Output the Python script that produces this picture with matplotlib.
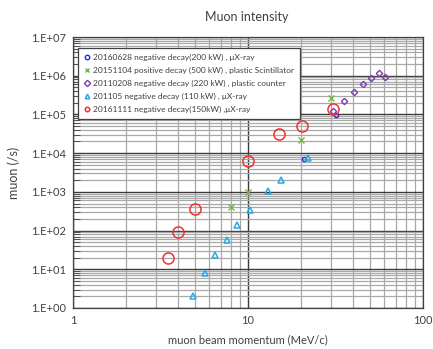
import matplotlib
matplotlib.use("Agg")
import matplotlib.pyplot as plt
from matplotlib.ticker import LogLocator, NullFormatter

plt.rcParams['font.family'] = ['Lato', 'DejaVu Sans']

# data
blue_x = [21, 32]
blue_y = [6900, 98000]
green_x = [8, 10, 20, 30]
green_y = [410, 1000, 22000, 260000]
purple_x = [30.5, 35.5, 40.5, 45.4, 50.7, 55.8, 60.7]
purple_y = [125000, 220000, 386000, 610000, 870000, 1200000, 925000]
cyan_x = [4.83, 5.7, 6.45, 7.6, 8.6, 10.2, 13, 15.4, 21.9]
cyan_y = [2.1, 8.1, 24, 56, 136, 350, 1050, 2000, 7300]
red_x = [3.5, 4.0, 5.0, 10.0, 15.0, 20.3, 30.5]
red_y = [19, 91, 370, 6400, 30500, 50000, 135000]

labels = [
    "20160628 negative decay(200 kW) , \u03bcX-ray",
    "20151104 positive decay (500 kW) , plastic Scintillator",
    "20110208 negative decay (220 kW) , plastic counter",
    "201105 negative decay (110 kW) , \u03bcX-ray",
    "20161111 negative decay(150kW) ,\u03bcX-ray",
]
yticks = [1e0, 1e1, 1e2, 1e3, 1e4, 1e5, 1e6, 1e7]
ytick_labels = ["1.E+00", "1.E+01", "1.E+02", "1.E+03", "1.E+04", "1.E+05", "1.E+06", "1.E+07"]
xticks = [1, 10, 100]
xtick_labels = ["1", "10", "100"]

txt = '#404040'
fig = plt.figure(figsize=(4.33, 3.49), dpi=100)
ax = fig.add_axes([73/433, 1-308/349, 350/433, 271/349])
ax.set_xscale('log')
ax.set_yscale('log')
ax.set_xlim(1, 100)
ax.set_ylim(1, 1e7)

ax.set_xticks(xticks)
ax.set_xticklabels(xtick_labels)
ax.set_yticks(yticks)
ax.set_yticklabels(ytick_labels)
ax.xaxis.set_minor_locator(LogLocator(base=10, subs=range(2, 10)))
ax.yaxis.set_minor_locator(LogLocator(base=10, subs=range(2, 10)))
ax.xaxis.set_minor_formatter(NullFormatter())
ax.yaxis.set_minor_formatter(NullFormatter())
ax.grid(True, which='major', color='#3a3a3a', lw=1.0)
ax.grid(True, which='minor', color='#a8a8a8', lw=0.9)
ax.set_axisbelow(True)
ax.tick_params(which='both', colors=txt, labelsize=8, length=0, pad=5)
ax.tick_params(axis='y', which='minor', direction='in', length=5, left=True)
for s in ax.spines.values():
    s.set_color('#404040')
    s.set_linewidth(0.9)

h1, = ax.plot(blue_x, blue_y, 'o', mfc='none', mec='#1f2fd0', ms=3.0, mew=1.0, ls='none', label=labels[0])
h2, = ax.plot(green_x, green_y, 'x', color='#77b34a', ms=5, mew=1.0, ls='none', label=labels[1])
h3, = ax.plot(purple_x, purple_y, 'D', mfc='none', mec='#7a3fa8', ms=3.2, mew=1.0, ls='none', label=labels[2])
h4, = ax.plot(cyan_x, cyan_y, '^', mfc='none', mec='#2aa8e6', ms=4.0, mew=1.1, ls='none', label=labels[3])
h5, = ax.plot(red_x, red_y, 'o', mfc='none', mec='#f03030', ms=8, mew=1.1, ls='none', label=labels[4])

leg = ax.legend(loc='upper left', bbox_to_anchor=(0.003, 0.975), fontsize=6, frameon=True,
                fancybox=False, edgecolor='#404040', framealpha=1, borderpad=0.7,
                handlelength=0.8, handletextpad=0.3, labelspacing=0.7)
leg.get_frame().set_linewidth(0.9)
for t in leg.get_texts():
    t.set_color(txt)
for lh in leg.legend_handles:
    lh.set_markersize(3.2)

fig.text(0.57, 1-17/349, "Muon intensity", ha='center', va='center', fontsize=9, color=txt)
ax.set_xlabel("muon beam momentum (MeV/c)", fontsize=8, color=txt, labelpad=6)
ax.set_ylabel("muon (/s)", fontsize=9, color=txt, labelpad=8)

fig.savefig("out.png", dpi=100)
